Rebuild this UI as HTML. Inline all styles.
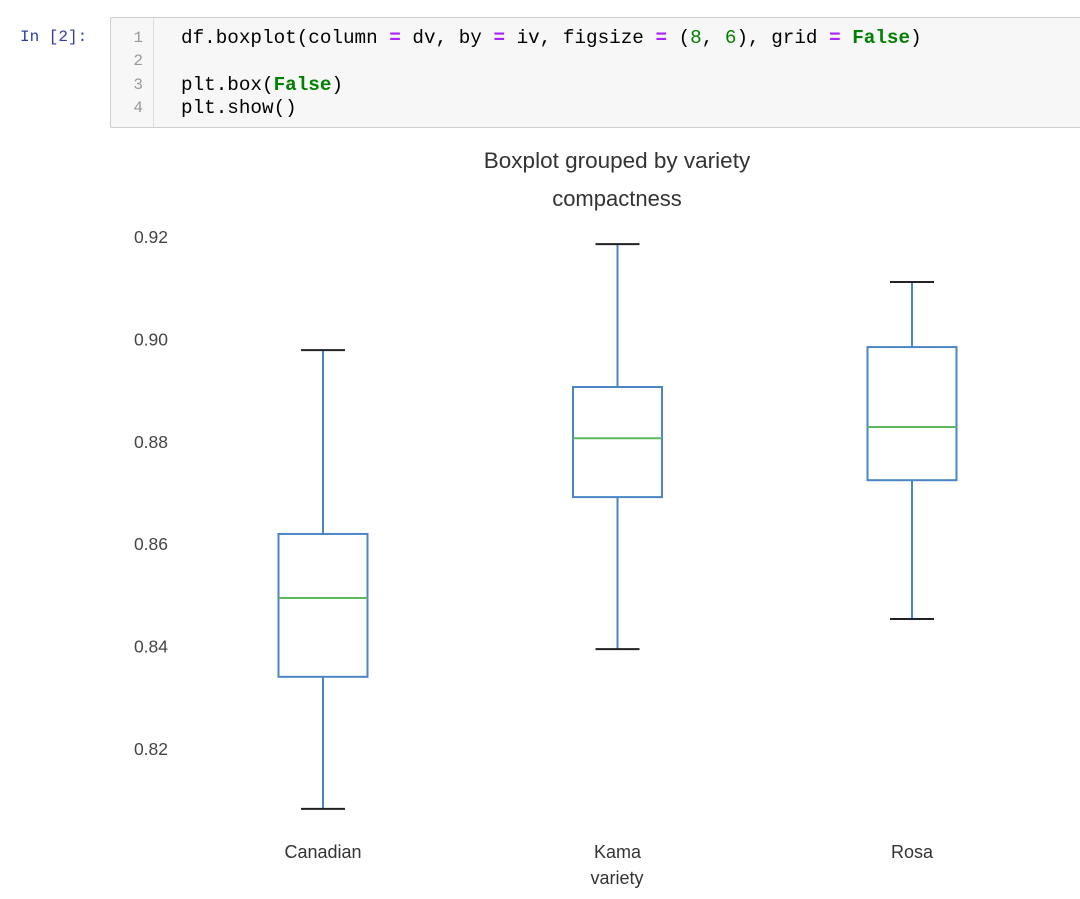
<!DOCTYPE html>
<html><head><meta charset="utf-8"><style>
body{margin:0;background:#fff;width:1080px;height:899px;overflow:hidden;position:relative;font-family:"Liberation Sans",sans-serif}
.prompt{position:absolute;left:20px;top:28px;font:16px "Liberation Mono",monospace;color:#303f9f}
.cell{position:absolute;left:110px;top:17px;width:980px;height:109px;background:#f7f7f7;border:1px solid #cfcfcf;border-radius:2px}
.gutter{position:absolute;left:0;top:0;width:42px;height:109px;border-right:1px solid #ddd}
.ln{position:absolute;left:0;width:32px;text-align:right;font:16px "Liberation Mono",monospace;color:#999}
.code{position:absolute;left:70px;font:19.3px "Liberation Mono",monospace;color:#000;white-space:pre}
.op{color:#aa22ff;font-weight:bold}.kw{color:#008000;font-weight:bold}.num{color:#008000}
</style></head><body>
<div class="prompt">In [2]:</div>
<div class="cell">
<div class="gutter"></div>
<div class="ln" style="top:11px">1</div><div class="ln" style="top:34px">2</div><div class="ln" style="top:58px">3</div><div class="ln" style="top:81px">4</div>
<div class="code" style="top:9px">df.boxplot(column <span class="op">=</span> dv, by <span class="op">=</span> iv, figsize <span class="op">=</span> (<span class="num">8</span>, <span class="num">6</span>), grid <span class="op">=</span> <span class="kw">False</span>)</div>
<div class="code" style="top:56px">plt.box(<span class="kw">False</span>)</div>
<div class="code" style="top:79px">plt.show()</div>
</div>
<svg id="chart" width="1080" height="899" style="position:absolute;left:0;top:0"></svg>
<script>
const categories=["Canadian","Kama","Rosa"];
const mins=[0.8083,0.8395,0.8454];
const q1s=[0.8341,0.8692,0.8725];
const medians=[0.8495,0.8807,0.8829];
const q3s=[0.8620,0.8907,0.8985];
const maxs=[0.8979,0.9186,0.9112];
const yTicks=[0.82,0.84,0.86,0.88,0.90,0.92];
const NS="http://www.w3.org/2000/svg";
const svg=document.getElementById('chart');
function y(v){return 237+(0.92-v)*5120;}
function x(i){return 323+i*294.5;}
function el(t,a,txt){const e=document.createElementNS(NS,t);for(const k in a)e.setAttribute(k,a[k]);if(txt!==undefined)e.textContent=txt;svg.appendChild(e);return e;}
function txt(x0,y0,s,size,anchor,fill){return el('text',{x:x0,y:y0,'font-size':size,'text-anchor':anchor,fill:fill,'font-family':'Liberation Sans, sans-serif'},s);}
let t=txt(617,168,"Boxplot grouped by variety",22.5,"middle","#333");


t=txt(617,206,"compactness",22,"middle","#333");


t=txt(617,884,"variety",18,"middle","#333");


yTicks.forEach(v=>{const e=txt(168,y(v)+6,v.toFixed(2),17.5,"end","#444");

});
const blue="#4a86c5";
categories.forEach((c,i)=>{
const cx=x(i),hw=44.5,cw=22;
const g=document.createElementNS(NS,'g');svg.appendChild(g);


function ln(x1,y1,x2,y2,col){const l=document.createElementNS(NS,'line');l.setAttribute('x1',x1);l.setAttribute('y1',y1);l.setAttribute('x2',x2);l.setAttribute('y2',y2);l.setAttribute('stroke',col);l.setAttribute('stroke-width',2);g.appendChild(l);}
ln(cx,y(maxs[i]),cx,y(q3s[i]),blue);
ln(cx,y(q1s[i]),cx,y(mins[i]),blue);
ln(cx-cw,y(maxs[i]),cx+cw,y(maxs[i]),"#222");
ln(cx-cw,y(mins[i]),cx+cw,y(mins[i]),"#222");
const r=document.createElementNS(NS,'rect');r.setAttribute('x',cx-hw);r.setAttribute('y',y(q3s[i]));r.setAttribute('width',2*hw);r.setAttribute('height',y(q1s[i])-y(q3s[i]));r.setAttribute('fill','none');r.setAttribute('stroke',blue);r.setAttribute('stroke-width',2);g.appendChild(r);
ln(cx-hw,y(medians[i]),cx+hw,y(medians[i]),"#5cb85c");
const l=txt(cx,858,c,18,"middle","#333");


});
</script>
</body></html>
